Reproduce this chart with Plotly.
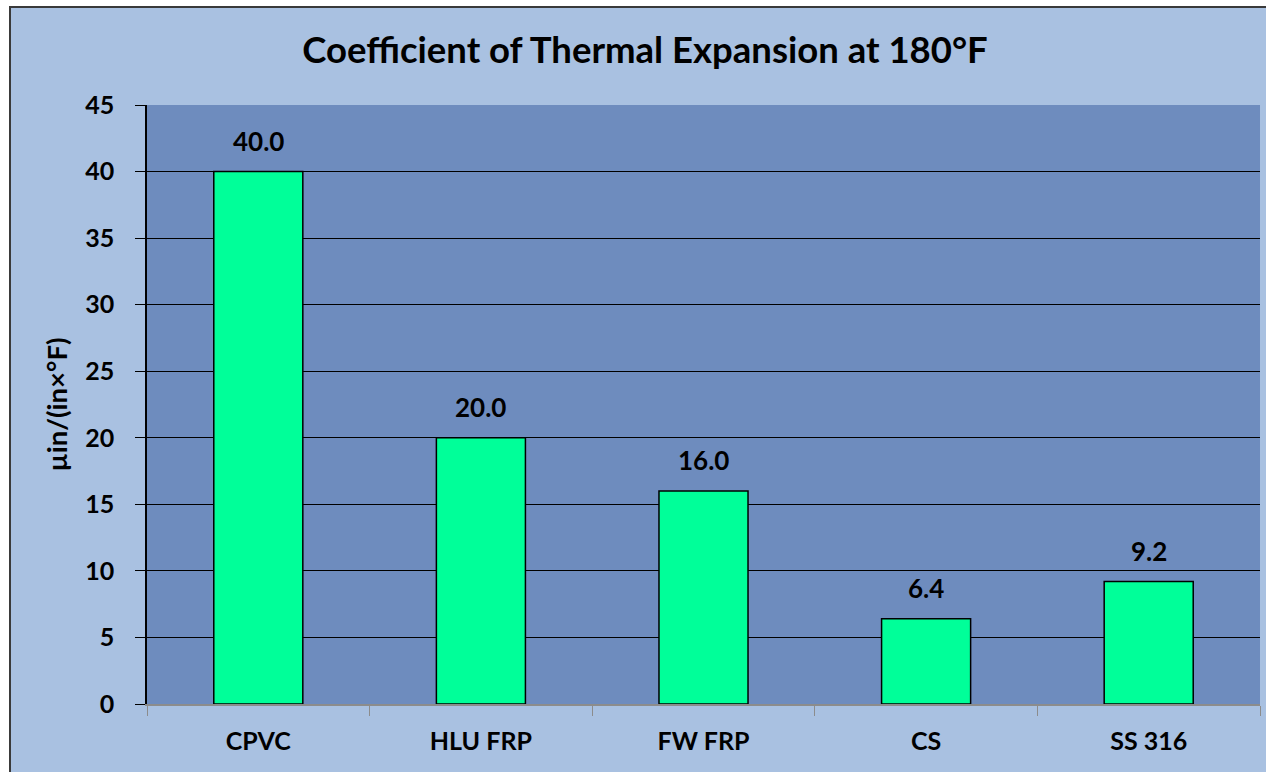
import plotly.graph_objects as go

categories = ["CPVC", "HLU FRP", "FW FRP", "CS", "SS 316"]
values = [40.0, 20.0, 16.0, 6.4, 9.2]
value_labels = ["40.0", "20.0", "16.0", "6.4", "9.2"]
y_ticks = [0, 5, 10, 15, 20, 25, 30, 35, 40, 45]

W, H = 1266, 772
L, R, T, B = 147, 6, 105, 68
pw, ph = W - L - R, H - T - B

def px_x(p):
    return (p - L) / pw

def px_y(p):
    return (H - B - p) / ph

FONT = "Lato"
BLACK = "#000000"

fig = go.Figure()
fig.add_trace(go.Bar(
    x=categories, y=values,
    marker=dict(color="#00FF99", line=dict(color=BLACK, width=1.5)),
))

annotations = [
    dict(x=c, y=v, xref="x", yref="y", text=f"<b>{t}</b>", showarrow=False,
         yanchor="bottom", yshift=13,
         font=dict(family=FONT, size=26, color=BLACK))
    for c, v, t in zip(categories, values, value_labels)
]

fig.update_layout(
    width=W, height=H,
    margin=dict(l=L, r=R, t=T, b=B),
    paper_bgcolor="#FFFFFF",
    plot_bgcolor="#6E8CBE",
    bargap=0.6,
    showlegend=False,
    title=dict(text="<b>Coefficient of Thermal Expansion at 180°F</b>",
               x=px_x(645), xref="paper", xanchor="center",
               y=1 - 50 / H, yanchor="middle",
               font=dict(family=FONT, size=36.5, color=BLACK)),
    font=dict(family=FONT, color=BLACK),
    annotations=annotations,
    shapes=[
        dict(type="rect", xref="paper", yref="paper", layer="below",
             x0=px_x(10), x1=px_x(1290), y0=px_y(800), y1=px_y(7),
             fillcolor="#A9C1E1", line=dict(color="#3A3A3A", width=2)),
        dict(type="rect", xref="paper", yref="paper", layer="below",
             x0=0, x1=1, y0=0, y1=1,
             fillcolor="#6E8CBE", line=dict(width=0)),
    ],
)

fig.update_yaxes(
    range=[0, 45], tickvals=y_ticks, ticktext=[f"<b>{v}</b>" for v in y_ticks],
    tickfont=dict(family=FONT, size=25, color=BLACK),
    showgrid=True, gridcolor=BLACK, gridwidth=1,
    showline=True, linecolor=BLACK, linewidth=1.5,
    ticks="outside", ticklen=10, tickcolor=BLACK,
    ticklabelstandoff=16,
    zeroline=False,
    title=dict(text="<b>µin/(in×°F)</b>", font=dict(family=FONT, size=27.5, color=BLACK), standoff=10),
)

fig.update_xaxes(
    tickvals=categories, ticktext=[f"<b>{c}</b>" for c in categories],
    tickfont=dict(family=FONT, size=25, color=BLACK),
    showline=True, linecolor="#8C8C8C", linewidth=1.5,
    ticks="outside", ticklen=10, tickcolor="#8C8C8C", tickson="boundaries",
    ticklabelstandoff=14,
    showgrid=False,
)

fig.write_html(
    "out.html",
    config={"displayModeBar": False},
    post_script=(
        "document.body.style.margin='0px';"
        "document.body.style.overflow='hidden';"
        "document.documentElement.style.overflow='hidden';"
    ),
)
